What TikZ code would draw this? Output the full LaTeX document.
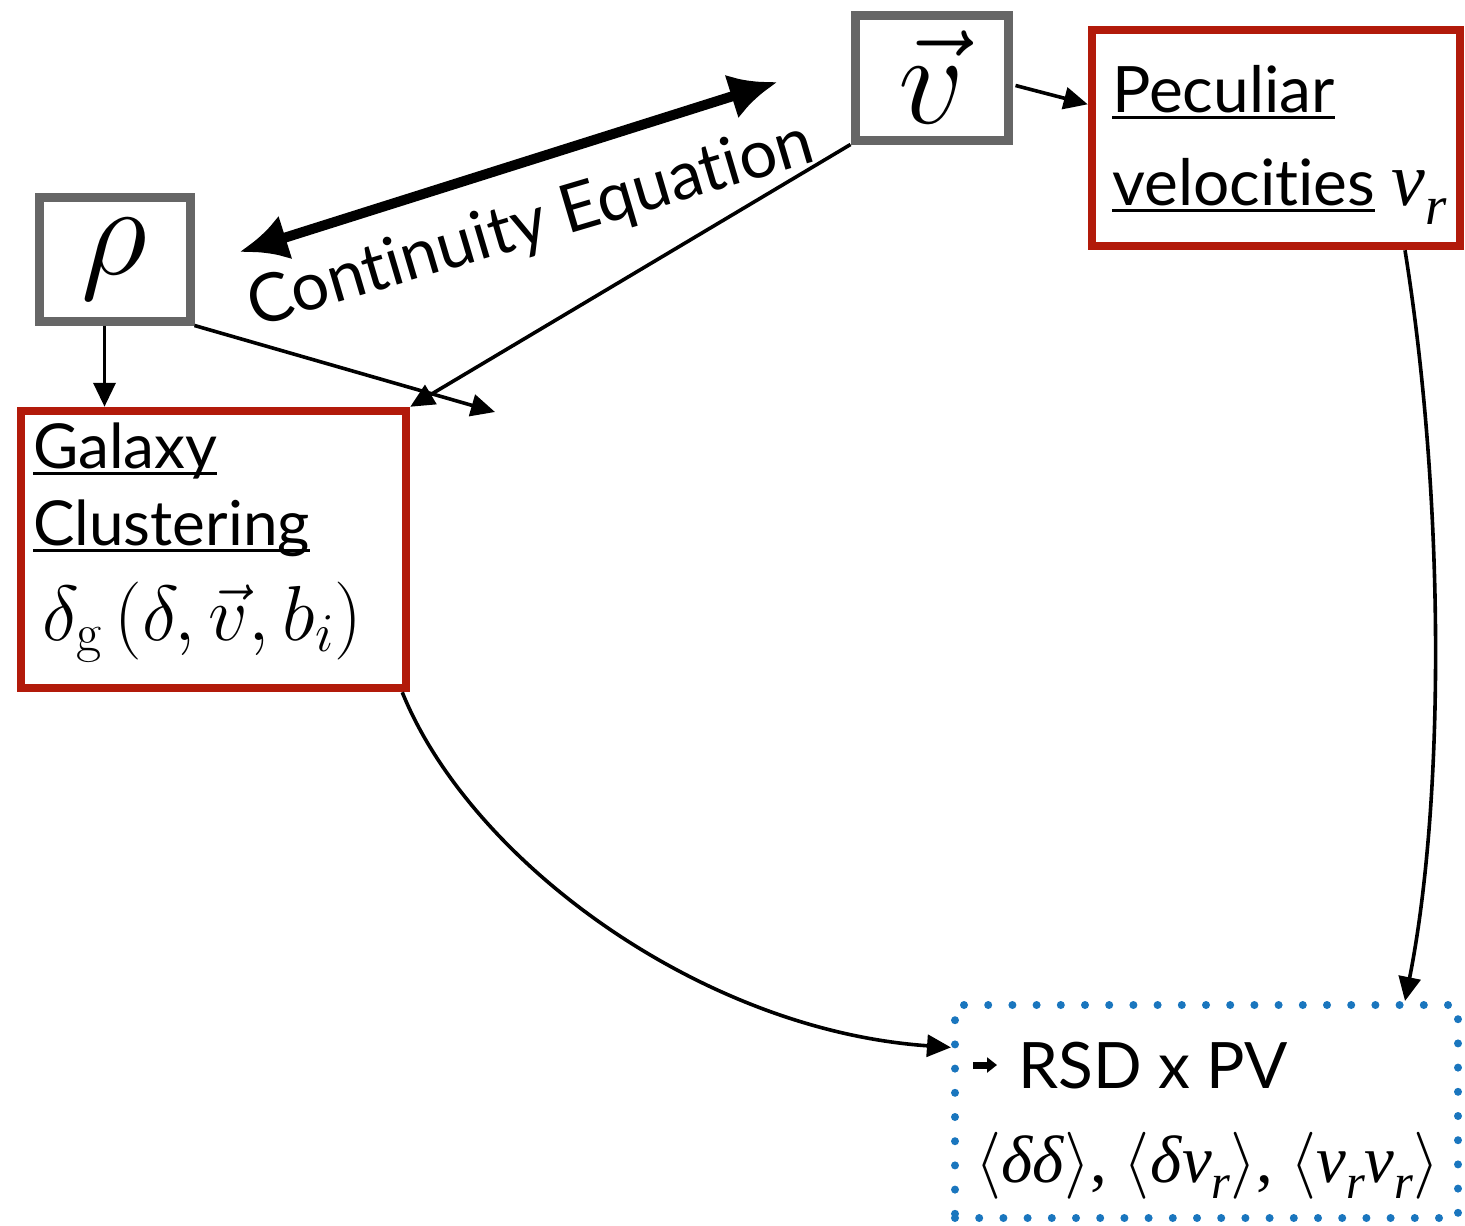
\RequirePackage{fix-cm}
\documentclass[tikz,border=0pt]{standalone}
\usepackage{fontspec}
\usepackage{graphicx}
\setmainfont{Latin Modern Roman}
\newfontfamily\gill[Ligatures=NoCommon]{Lato}
\newfontfamily\timesf{Liberation Serif}
\usetikzlibrary{arrows.meta,calc}

\definecolor{frgrey}{RGB}{102,102,102}
\definecolor{frred}{RGB}{178,26,10}
\definecolor{dotblue}{RGB}{26,118,190}

% underline drawn a little below the baseline
\newcommand\myul[1]{\setbox0\hbox{#1}\rlap{\rule[-7pt]{\wd0}{3pt}}\box0}
% italic v with subscript r
\newcommand\vsub{\textit{v}\raisebox{-0.25em}{\scalebox{0.72}{\textit{r}}}}

\tikzset{
  boxgrey/.style={draw=frgrey, line width=9pt, inner sep=0pt},
  boxred/.style={draw=frred, line width=8.5pt, inner sep=0pt},
  boxdot/.style={draw=dotblue, line width=8pt, line cap=round,
    dash pattern=on 0pt off 24.2pt, inner sep=0pt},
  label/.style={anchor=base west, inner sep=0pt},
  link/.style={line width=3.6pt, -{Triangle[length=24pt,width=22pt]}},
  biglink/.style={line width=10pt,
    {Latex[length=48pt,width=46pt]}-{Latex[length=48pt,width=46pt]}},
}

\begin{document}
\begin{tikzpicture}[x=1pt,y=-1pt]
\useasboundingbox (0,0) rectangle (1465,1226);

% boxes
\node[boxgrey, minimum width=151pt, minimum height=124pt] (rho) at (114.5,259)
  {\fontsize{130}{130}\selectfont$\rho$};
\node[boxgrey, minimum width=153pt, minimum height=125pt] (v) at (931.5,77.5)
  {\fontsize{130}{130}\selectfont$\vec{v}$};
\node[boxred, minimum width=368pt, minimum height=216pt] (pec) at (1276,138) {};
\node[boxred, minimum width=385pt, minimum height=277pt] (gal) at (213.5,549.5) {};
\node[boxdot, minimum width=503pt, minimum height=213pt] (rsd) at (1206.5,1111.5) {};

% texts inside the boxes
\node[label] (galA) at (33,468) {\gill\fontsize{62}{62}\selectfont\myul{Galaxy}};
\node[label] (galB) at (33,545) {\gill\fontsize{62}{62}\selectfont\myul{Clustering}};
\node[label] (galC) at (42,640)
  {\fontsize{78}{78}\selectfont$\delta_{\mathrm{g}}\left(\delta,\vec{v},b_i\right)$};
\node[label] (pecA) at (1112,112) {\gill\fontsize{64}{64}\selectfont\myul{Peculiar}};
\node[label] (pecB) at (1112,205)
  {\gill\fontsize{64}{64}\selectfont\myul{velocities}\ {\timesf\fontsize{76}{76}\selectfont\vsub}};
\node[label] (rsdA) at (1018,1088) {\gill\fontsize{64}{64}\selectfont RSD x PV};
\node[label] (rsdB) at (975,1182)
  {\timesf\fontsize{67}{67}\selectfont$\langle$\textit{δδ}$\rangle$, $\langle$\textit{δ}\vsub$\rangle$, $\langle$\vsub\vsub$\rangle$};

% small marker before the RSD label
\draw[line width=7pt, -{Triangle[length=10pt,width=15pt]}] (973,1065) -- (997,1065);

% continuity equation
\draw[biglink] ([xshift=45pt,yshift=7pt]rho.east) -- ([xshift=-73pt,yshift=-4.5pt]v.west);
\node[rotate=16.5, inner sep=0pt] (ce) at (531,226)
  {\gill\fontsize{67}{67}\selectfont Continuity Equation};

% connectors
\coordinate (open) at (495,412);
\draw[link] ([xshift=-10pt]rho.south) -- ([xshift=-10pt]rho.south |- gal.north);
\draw[link] (rho.south east) -- (open);
\draw[link] (v.south west) -- (gal.north east);
\draw[link] ($(v.east)+(3,8)$) -- ($(pec.north west)!0.35!(pec.south west)$);
\draw[link] ([xshift=129pt]pec.south) .. controls (1445,500) and (1445,800) .. ([xshift=198.5pt]rsd.north);
\draw[link] ([xshift=-8pt]gal.south east) .. controls (470,860) and (700,1030) .. ($(rsd.north west)!0.21!(rsd.south west)$);
\end{tikzpicture}
\end{document}
